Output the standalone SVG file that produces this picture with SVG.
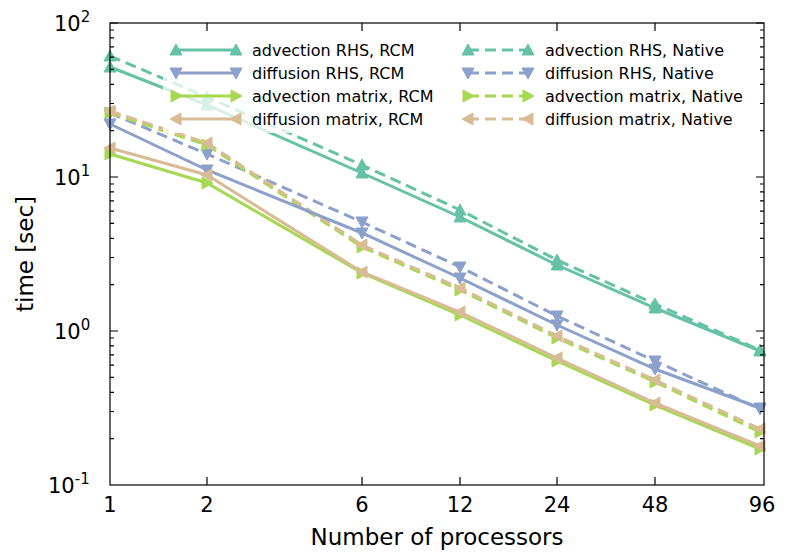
<svg xmlns="http://www.w3.org/2000/svg" width="788" height="559" viewBox="0 0 788 559">
<style>
text{font-family:"DejaVu Sans",sans-serif;fill:#000}
.tk{font-size:21px}
.al{font-size:23px}
.lg{font-size:16px}
.s{fill:none;stroke-width:3}
.d{stroke-dasharray:11,6}
.ar{stroke:#66c2a5}.dr{stroke:#8da0cb}.am{stroke:#a6d854}.dm{stroke:#d9bc96}
.ax{fill:none;stroke:#000;stroke-width:1.2}
</style>
<defs>
<marker id="mu" viewBox="-7 -7 14 14" markerWidth="14" markerHeight="14" markerUnits="userSpaceOnUse" orient="0"><path d="M0,-6L6,5H-6Z" fill="#66c2a5" stroke="#66c2a5"/></marker>
<marker id="md" viewBox="-7 -7 14 14" markerWidth="14" markerHeight="14" markerUnits="userSpaceOnUse" orient="0"><path d="M0,6L6,-5H-6Z" fill="#8da0cb" stroke="#8da0cb"/></marker>
<marker id="mr" viewBox="-7 -7 14 14" markerWidth="14" markerHeight="14" markerUnits="userSpaceOnUse" orient="0"><path d="M6,0L-5,-6V6Z" fill="#a6d854" stroke="#a6d854"/></marker>
<marker id="ml" viewBox="-7 -7 14 14" markerWidth="14" markerHeight="14" markerUnits="userSpaceOnUse" orient="0"><path d="M-6,0L5,-6V6Z" fill="#d9bc96" stroke="#d9bc96"/></marker>
</defs>
<rect width="788" height="559" fill="#fff"/>
<g id="connectors">
<path class="s ar d" marker-start="url(#mu)" marker-mid="url(#mu)" marker-end="url(#mu)" d="M110,56L207,97L362,165L460,210L557,260L655,304L760,350"/>
<path class="s dr d" marker-start="url(#md)" marker-mid="url(#md)" marker-end="url(#md)" d="M110,113L207,154L362,222L460,267L557,316L655,361L760,409"/>
<path class="s am d" marker-start="url(#mr)" marker-mid="url(#mr)" marker-end="url(#mr)" d="M110,113L207,145L362,247L460,290L557,338L655,382L760,432"/>
<path class="s dm d" marker-start="url(#ml)" marker-mid="url(#ml)" marker-end="url(#ml)" d="M110,111L207,143L362,245L460,288L557,336L655,380L760,429"/>
<path class="s ar" marker-start="url(#mu)" marker-mid="url(#mu)" marker-end="url(#mu)" d="M110,67L207,105L362,173L460,217L557,265L655,308L760,351"/>
<path class="s dr" marker-start="url(#md)" marker-mid="url(#md)" marker-end="url(#md)" d="M110,124L207,170L362,233L460,278L557,325L655,369L760,408"/>
<path class="s am" marker-start="url(#mr)" marker-mid="url(#mr)" marker-end="url(#mr)" d="M110,154L207,183L362,273L460,315L557,361L655,405L760,449"/>
<path class="s dm" marker-start="url(#ml)" marker-mid="url(#ml)" marker-end="url(#ml)" d="M110,148L207,175L362,272L460,312L557,358L655,403L760,446"/>
</g>
<g id="legend">
<rect x="163" y="36" width="594" height="97" fill="#fff" fill-opacity="0.75"/>
<path class="s ar" marker-start="url(#mu)" marker-end="url(#mu)" d="M176,50H236"/>
<path class="s dr" marker-start="url(#md)" marker-end="url(#md)" d="M176,73H236"/>
<path class="s am" marker-start="url(#mr)" marker-end="url(#mr)" d="M176,96H236"/>
<path class="s dm" marker-start="url(#ml)" marker-end="url(#ml)" d="M176,119H236"/>
<path class="s ar d" marker-start="url(#mu)" marker-end="url(#mu)" d="M468,50H528"/>
<path class="s dr d" marker-start="url(#md)" marker-end="url(#md)" d="M468,73H528"/>
<path class="s am d" marker-start="url(#mr)" marker-end="url(#mr)" d="M468,96H528"/>
<path class="s dm d" marker-start="url(#ml)" marker-end="url(#ml)" d="M468,119H528"/>
<text class="lg" x="252" y="56">advection RHS, RCM</text>
<text class="lg" x="252" y="79">diffusion RHS, RCM</text>
<text class="lg" x="252" y="102">advection matrix, RCM</text>
<text class="lg" x="252" y="125">diffusion matrix, RCM</text>
<text class="lg" x="545" y="56">advection RHS, Native</text>
<text class="lg" x="545" y="79">diffusion RHS, Native</text>
<text class="lg" x="545" y="102">advection matrix, Native</text>
<text class="lg" x="545" y="125">diffusion matrix, Native</text>
</g>
<g id="axes">
<rect class="ax" x="110" y="23" width="654" height="462"/>
<path class="ax" d="M110,23h8M110,177h8M110,331h8M764,23h-8M764,177h-8M764,331h-8"/>
<path class="ax" stroke-width="1" d="M110,438.6h4M110,411.5h4M110,392.3h4M110,377.4h4M110,365.2h4M110,354.9h4M110,345.9h4M110,338h4
M110,284.6h4M110,257.5h4M110,238.3h4M110,223.4h4M110,211.2h4M110,200.9h4M110,191.9h4M110,184h4
M110,130.6h4M110,103.5h4M110,84.3h4M110,69.4h4M110,57.2h4M110,46.9h4M110,37.9h4M110,30h4
M764,438.6h-4M764,411.5h-4M764,392.3h-4M764,377.4h-4M764,365.2h-4M764,354.9h-4M764,345.9h-4M764,338h-4
M764,284.6h-4M764,257.5h-4M764,238.3h-4M764,223.4h-4M764,211.2h-4M764,200.9h-4M764,191.9h-4M764,184h-4
M764,130.6h-4M764,103.5h-4M764,84.3h-4M764,69.4h-4M764,57.2h-4M764,46.9h-4M764,37.9h-4M764,30h-4"/>
<path class="ax" d="M207,485v-8M362,485v-8M460,485v-8M557,485v-8M655,485v-8M207,23v8M362,23v8M460,23v8M557,23v8M655,23v8"/>
<text class="tk" x="110" y="512" text-anchor="middle">1</text>
<text class="tk" x="207" y="512" text-anchor="middle">2</text>
<text class="tk" x="362" y="512" text-anchor="middle">6</text>
<text class="tk" x="460" y="512" text-anchor="middle">12</text>
<text class="tk" x="557" y="512" text-anchor="middle">24</text>
<text class="tk" x="655" y="512" text-anchor="middle">48</text>
<text class="tk" x="762" y="512" text-anchor="middle">96</text>
<text class="tk" x="54" y="31">10<tspan font-size="15" dy="-9">2</tspan></text>
<text class="tk" x="54" y="185">10<tspan font-size="15" dy="-9">1</tspan></text>
<text class="tk" x="54" y="339">10<tspan font-size="15" dy="-9">0</tspan></text>
<text class="tk" x="48" y="493">10<tspan font-size="15" dy="-9">-1</tspan></text>
<text class="al" x="437" y="545" text-anchor="middle">Number of processors</text>
<text class="al" transform="translate(33,254) rotate(-90)" text-anchor="middle">time [sec]</text>
</g>
</svg>
